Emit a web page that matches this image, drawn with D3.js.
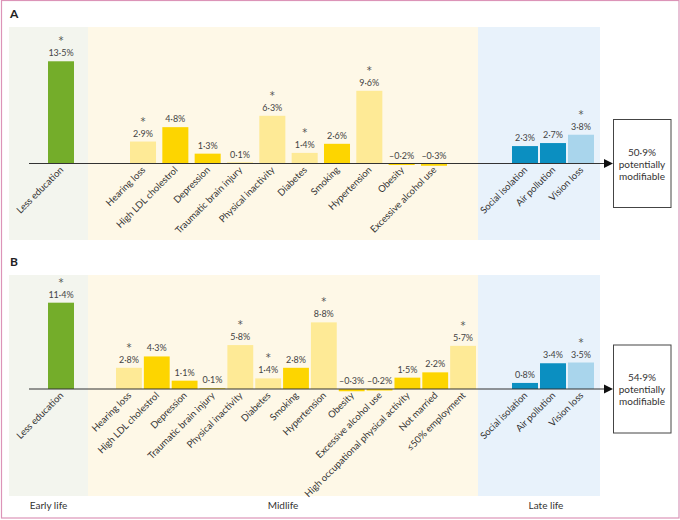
<!DOCTYPE html>
<html lang="en">
<head>
<meta charset="UTF-8">
<title>Potentially modifiable risk factors</title>
<style>
  body { margin: 0; background: #fff; }
  svg { font-family: Lato, "Open Sans", sans-serif; }
  .cat { font-size: 9.5px; fill: #333; }
  .val { font-size: 9px; fill: #444; }
  .star { font-family: "DejaVu Sans", sans-serif; font-size: 10px; fill: #555; }
  .stage { font-size: 10px; fill: #333; }
  .panel { font-size: 12px; font-weight: bold; fill: #222; }
  .box text { font-size: 10px; fill: #333; }
</style>
</head>
<body>
<svg></svg>
<script src="https://cdnjs.cloudflare.com/ajax/libs/d3/7.8.5/d3.min.js"></script>
<script>

// ---- data ----
var earlyFactors = ["Less education"];
var earlyValuesA = [13.5];
var earlyStarA = [1];
var earlyValuesB = [11.4];
var earlyStarB = [1];

var midFactorsA = ["Hearing loss", "High LDL cholestrol", "Depression", "Traumatic brain injury",
  "Physical inactivity", "Diabetes", "Smoking", "Hypertension", "Obesity", "Excessive alcohol use"];
var midValuesA = [2.9, 4.8, 1.3, 0.1, 6.3, 1.4, 2.6, 9.6, -0.2, -0.3];
var midStarA = [1, 0, 0, 0, 1, 1, 0, 1, 0, 0];

var midFactorsB = ["Hearing loss", "High LDL cholestrol", "Depression", "Traumatic brain injury",
  "Physical inactivity", "Diabetes", "Smoking", "Hypertension", "Obesity", "Excessive alcohol use",
  "High occupational physical activity", "Not married", "\u226450% employment"];
var midValuesB = [2.8, 4.3, 1.1, 0.1, 5.8, 1.4, 2.8, 8.8, -0.3, -0.2, 1.5, 2.2, 5.7];
var midStarB = [1, 0, 0, 0, 1, 1, 0, 1, 0, 0, 0, 0, 1];

var lateFactors = ["Social isolation", "Air pollution", "Vision loss"];
var lateValuesA = [2.3, 2.7, 3.8];
var lateStarA = [0, 0, 1];
var lateValuesB = [0.8, 3.4, 3.5];
var lateStarB = [0, 0, 1];

var totals = ["50\u00b79%", "54\u00b79%"];
var stageNames = ["Early life", "Midlife", "Late life"];

// ---- layout ----
var width = 680, height = 520;
var svg = d3.select("svg").attr("width", width).attr("height", height);

var stageX = [9, 88, 478, 600];
var stageFill = ["#f3f5ee", "#fef8e7", "#e8f2fb"];
var colors = {
  early: "#74ad2a",
  mid: "#fdd500", midLight: "#feea96",
  late: "#0b8fc1", lateLight: "#a9d5ec"
};

var y = d3.scaleLinear().domain([0, 14]).range([0, 106]);

function fmt(v) {
  return (v < 0 ? "\u2013" : "") + Math.abs(v).toFixed(1).replace(".", "\u00b7") + "%";
}

// frame
svg.append("rect")
  .attr("x", 1.5).attr("y", 0.5)
  .attr("width", 677.5).attr("height", 517.5)
  .attr("fill", "none").attr("stroke", "#dc94b8").attr("stroke-width", 1.2);

function panel(opt) {
  var g = svg.append("g");
  var axisY = opt.axisY;

  g.append("text").attr("class", "panel")
    .attr("x", 10).attr("y", opt.top - 9).text(opt.label);

  g.selectAll("rect.bg").data(stageFill).enter().append("rect")
    .attr("class", "bg")
    .attr("x", function(d, i) { return stageX[i]; })
    .attr("y", opt.top)
    .attr("width", function(d, i) { return stageX[i + 1] - stageX[i]; })
    .attr("height", opt.bottom - opt.top)
    .attr("fill", function(d) { return d; });

  var groups = [
    { names: earlyFactors, values: opt.earlyValues, stars: opt.earlyStars,
      x: d3.scaleBand().domain(earlyFactors).range([48, 74]),
      color: function() { return colors.early; } },
    { names: opt.midFactors, values: opt.midValues, stars: opt.midStars,
      x: d3.scaleBand().domain(opt.midFactors).range(opt.midRange).paddingInner(opt.midPad),
      color: function(s) { return s ? colors.midLight : colors.mid; } },
    { names: lateFactors, values: opt.lateValues, stars: opt.lateStars,
      x: d3.scaleBand().domain(lateFactors).range([512, 594]).paddingInner(0.072),
      color: function(s) { return s ? colors.lateLight : colors.late; } }
  ];

  groups.forEach(function(grp) {
    var rows = grp.names.map(function(n, i) {
      return { name: n, value: grp.values[i], star: grp.stars[i] };
    });
    var bars = g.append("g");

    bars.selectAll("rect").data(rows).enter().append("rect")
      .attr("x", function(d) { return grp.x(d.name); })
      .attr("width", grp.x.bandwidth())
      .attr("y", function(d) { return d.value >= 0 ? axisY - y(d.value) : axisY; })
      .attr("height", function(d) { return Math.max(y(Math.abs(d.value)), 0.5); })
      .attr("fill", function(d) { return grp.color(d.star); });

    bars.selectAll("text.val").data(rows).enter().append("text")
      .attr("class", "val")
      .attr("text-anchor", "middle")
      .attr("x", function(d) { return grp.x(d.name) + grp.x.bandwidth() / 2; })
      .attr("y", function(d) { return axisY - y(Math.max(d.value, 0)) - 5; })
      .text(function(d) { return fmt(d.value); });

    // significance marker sits above the value label
    bars.selectAll("text.star").data(rows.filter(function(d) { return d.star; })).enter().append("text")
      .attr("class", "star")
      .attr("text-anchor", "middle")
      .attr("x", function(d) { return grp.x(d.name) + grp.x.bandwidth() / 2; })
      .attr("y", function(d) { return axisY - y(Math.max(d.value, 0)) - 17; })
      .text("*");

    bars.selectAll("text.cat").data(rows).enter().append("text")
      .attr("class", "cat")
      .attr("text-anchor", "end")
      .attr("transform", function(d) {
        return "translate(" + (grp.x(d.name) + grp.x.bandwidth() / 2 + 3) + "," + (axisY + 7) + ") rotate(-45)";
      })
      .text(function(d) { return d.name; });
  });

  // axis with arrow
  g.append("line")
    .attr("x1", 29).attr("x2", 606)
    .attr("y1", axisY).attr("y2", axisY)
    .attr("stroke", "#333").attr("stroke-width", 1.2);
  g.append("path")
    .attr("d", "M604," + (axisY - 4.5) + "L613," + axisY + "L604," + (axisY + 4.5) + "Z")
    .attr("fill", "#111");

  // total box
  var box = g.append("g").attr("class", "box");
  box.append("rect")
    .attr("x", 613.5).attr("y", axisY - 44)
    .attr("width", 57.5).attr("height", 88)
    .attr("fill", "#fff").attr("stroke", "#444").attr("stroke-width", 1);
  [opt.total, "potentially", "modifiable"].forEach(function(t, i) {
    box.append("text")
      .attr("x", 642).attr("y", axisY - 8 + i * 12)
      .attr("text-anchor", "middle").text(t);
  });
}

panel({
  label: "A", top: 27, bottom: 240, axisY: 163.5,
  earlyValues: earlyValuesA, earlyStars: earlyStarA,
  midFactors: midFactorsA, midValues: midValuesA, midStars: midStarA,
  midRange: [130, 447], midPad: 0.195,
  lateValues: lateValuesA, lateStars: lateStarA,
  total: totals[0]
});

panel({
  label: "B", top: 275, bottom: 496, axisY: 389,
  earlyValues: earlyValuesB, earlyStars: earlyStarB,
  midFactors: midFactorsB, midValues: midValuesB, midStars: midStarB,
  midRange: [116, 476], midPad: 0.072,
  lateValues: lateValuesB, lateStars: lateStarB,
  total: totals[1]
});

// life-stage labels
var stageLabelX = [48.5, 283, 546];
svg.selectAll("text.stage").data(stageNames).enter().append("text")
  .attr("class", "stage")
  .attr("text-anchor", "middle")
  .attr("x", function(d, i) { return stageLabelX[i]; })
  .attr("y", 509)
  .text(function(d) { return d; });

</script>
</body>
</html>
